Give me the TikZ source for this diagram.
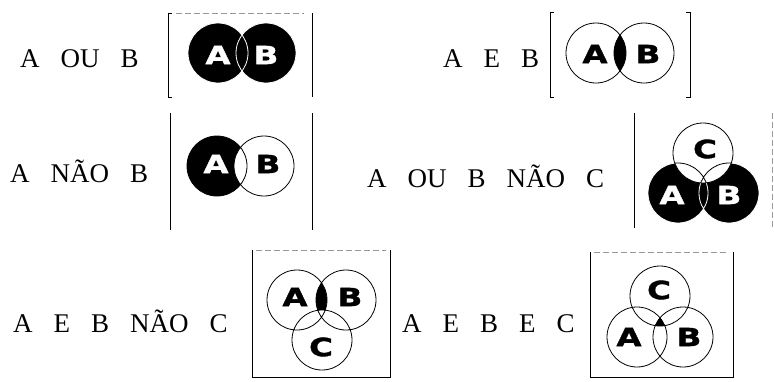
\documentclass[tikz,border=0pt]{standalone}
\usepackage{fontspec}
\usepackage{tikz}
\setmainfont{Liberation Serif}
\newfontfamily\setfont[FakeStretch=1.3, FakeBold=1.5]{DejaVu Sans}
\newcommand{\wgap}{\hspace{21pt}}
\newcommand{\rr}{30pt}
\tikzset{
  word/.style={anchor=base west, inner sep=0pt, font=\fontsize{27}{27}\selectfont},
  setlbl/.style={inner sep=0pt, font=\setfont\bfseries\fontsize{25}{25}\selectfont},
  ring/.style={draw=black, line width=0.8pt},
  rim/.style={draw=black, line width=0.9pt},
  faint/.style={draw=black!40, line width=0.6pt, dash pattern=on 6pt off 3pt},
}

\begin{document}
\begin{tikzpicture}[x=1pt, y=-1pt]
  \useasboundingbox (0,0) rectangle (774,381);
  % labels
  \node[word] (t1) at (20,67) {A\wgap OU\wgap B};
  \node[word] (t2) at (443,67) {A\wgap E\wgap B};
  \node[word] (t3) at (10,182) {A\wgap NÃO\wgap B};
  \node[word] (t4) at (367,187) {A\wgap OU\wgap B\wgap NÃO\wgap C};
  \node[word] (t5) at (13,332) {A\wgap E\wgap B\wgap NÃO\wgap C};
  \node[word] (t6) at (402,332) {A\wgap E\wgap B\wgap E\wgap C};

  % frames
  \draw[rim] (172,13) -- (168,13) -- (168,97) -- (172,97);
  \draw[rim] (312,13) -- (312,97);
  \draw[faint] (176,13) -- (304,13);
  \draw[rim] (554,12) -- (550,12) -- (550,97) -- (554,97);
  \draw[rim] (686,12) -- (690,12) -- (690,97) -- (686,97);
  \draw[rim] (170,113) -- (170,230);
  \draw[rim] (312,113) -- (312,230);
  \draw[rim] (634,113) -- (634,228);
  \draw[faint] (772,113) -- (772,228);
  \draw[rim] (252,250) -- (252,377) -- (390,377) -- (390,250);
  \draw[faint] (256,250) -- (386,250);
  \draw[rim] (590,252) -- (590,377) -- (733,377) -- (733,252);
  \draw[faint] (594,252) -- (729,252);

  % A OU B
  \coordinate (a1) at (218,53);
  \coordinate (b1) at (266,53);
  \fill (a1) circle[radius=\rr] (b1) circle[radius=\rr];
  \draw[white, line width=0.8pt] (a1) circle[radius=\rr] (b1) circle[radius=\rr];
  \node[setlbl, text=white] (la1) at (218,55) {A};
  \node[setlbl, text=white] (lb1) at (266,55) {B};

  % A E B
  \coordinate (a2) at (596,53);
  \coordinate (b2) at (644,53);
  \begin{scope}
    \clip (a2) circle[radius=\rr];
    \fill (b2) circle[radius=\rr];
  \end{scope}
  \draw[ring] (a2) circle[radius=\rr] (b2) circle[radius=\rr];
  \node[setlbl] (la2) at (595,54) {A};
  \node[setlbl] (lb2) at (648,54) {B};

  % A NAO B
  \coordinate (a3) at (217,166);
  \coordinate (b3) at (264,166);
  \fill (a3) circle[radius=\rr];
  \begin{scope}
    \clip (a3) circle[radius=\rr];
    \fill[white] (b3) circle[radius=\rr];
  \end{scope}
  \draw[ring] (a3) circle[radius=\rr] (b3) circle[radius=\rr];
  \node[setlbl, text=white] (la3) at (216,164) {A};
  \node[setlbl] (lb3) at (268,164) {B};

  % A OU B NAO C
  \coordinate (c4) at (703,153);
  \coordinate (a4) at (678,193);
  \coordinate (b4) at (729,193);
  \fill (a4) circle[radius=\rr] (b4) circle[radius=\rr];
  \draw[white, line width=0.8pt] (a4) circle[radius=\rr] (b4) circle[radius=\rr];
  \fill[white] (c4) circle[radius=\rr];
  \draw[ring] (c4) circle[radius=\rr];
  \begin{scope}
    \clip (c4) circle[radius=\rr];
    \draw[ring] (a4) circle[radius=\rr] (b4) circle[radius=\rr];
  \end{scope}
  \node[setlbl] (lc4) at (705,149) {C};
  \node[setlbl, text=white] (la4) at (672,195) {A};
  \node[setlbl, text=white] (lb4) at (729,195) {B};

  % A E B NAO C
  \coordinate (a5) at (297,300);
  \coordinate (b5) at (346,300);
  \coordinate (c5) at (322,340);
  \begin{scope}
    \clip (a5) circle[radius=\rr];
    \clip (b5) circle[radius=\rr];
    \fill (a5) circle[radius=\rr];
    \fill[white] (c5) circle[radius=\rr];
  \end{scope}
  \draw[ring] (a5) circle[radius=\rr] (b5) circle[radius=\rr] (c5) circle[radius=\rr];
  \node[setlbl] (la5) at (295,297) {A};
  \node[setlbl] (lb5) at (350,297) {B};
  \node[setlbl] (lc5) at (321,347) {C};

  % A E B E C
  \coordinate (c6) at (660,296);
  \coordinate (a6) at (637,337);
  \coordinate (b6) at (683,337);
  \begin{scope}
    \clip (a6) circle[radius=\rr];
    \clip (b6) circle[radius=\rr];
    \fill (c6) circle[radius=\rr];
  \end{scope}
  \draw[ring] (a6) circle[radius=\rr] (b6) circle[radius=\rr] (c6) circle[radius=\rr];
  \node[setlbl] (lc6) at (659,290) {C};
  \node[setlbl] (la6) at (629,337) {A};
  \node[setlbl] (lb6) at (689,337) {B};
\end{tikzpicture}
\end{document}
